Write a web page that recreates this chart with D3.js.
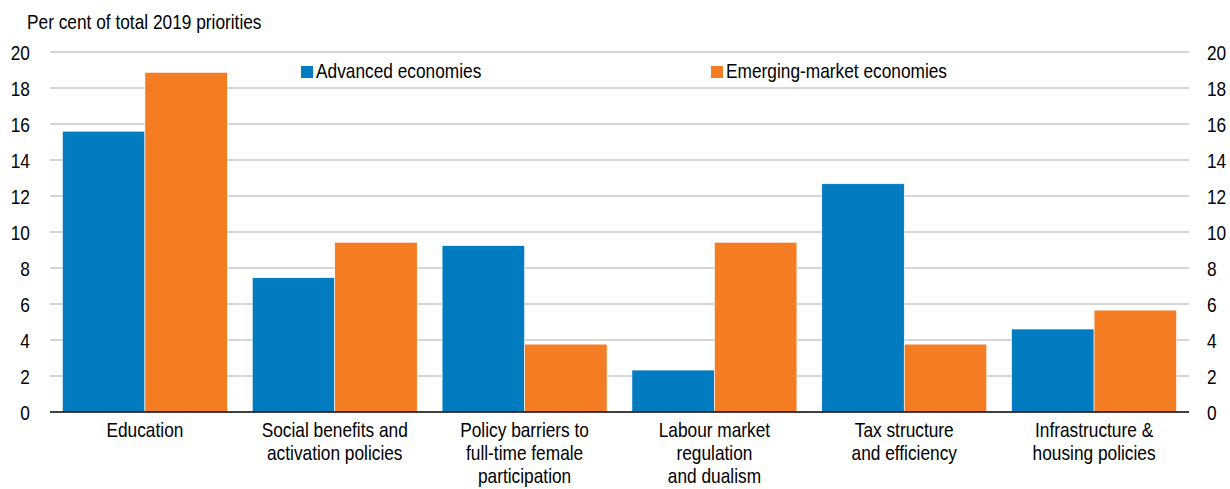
<!DOCTYPE html>
<html>
<head>
<meta charset="utf-8">
<script src="https://cdn.jsdelivr.net/npm/d3@7"></script>
<style>
  html, body { margin: 0; padding: 0; background: #fff; }
  svg text { font-family: "Liberation Sans", Arial, sans-serif; fill: #000; }
</style>
</head>
<body>
<svg id="chart" width="1230" height="489"></svg>
<script>
// Share of 2019 structural-reform priorities by policy area
const categories = [
  ["Education"],
  ["Social benefits and", "activation policies"],
  ["Policy barriers to", "full-time female", "participation"],
  ["Labour market", "regulation", "and dualism"],
  ["Tax structure", "and efficiency"],
  ["Infrastructure &", "housing policies"]
];
const seriesNames = ["Advanced economies", "Emerging-market economies"];
const advanced = [15.6, 7.46, 9.24, 2.33, 12.68, 4.61];
const emerging = [18.87, 9.43, 3.77, 9.43, 3.77, 5.66];
const yTicks = [0, 2, 4, 6, 8, 10, 12, 14, 16, 18, 20];
const yTitle = "Per cent of total 2019 priorities";

const colors = ["#037bc1", "#f47d23"];
const narrow = 0.865;   // condensed sans look

const margin = { left: 50, right: 41, top: 52, bottom: 77 };
const W = 1230, H = 489;
const svg = d3.select("#chart");

// place a text at (px, py) with horizontal condensing
function placeText(sel, px, py) {
  sel.attr("x", 0).attr("y", 0)
    .attr("transform", (d, i) => `translate(${typeof px === "function" ? px(d, i) : px},${typeof py === "function" ? py(d, i) : py}) scale(${narrow},1)`);
}

const x = d3.scaleBand()
  .domain(d3.range(categories.length))
  .range([margin.left, W - margin.right])
  .paddingInner(0.131)
  .paddingOuter(0.0655);

const x1 = d3.scaleBand()
  .domain(d3.range(seriesNames.length))
  .range([0, x.bandwidth()]);

const y = d3.scaleLinear()
  .domain([0, 20])
  .range([H - margin.bottom, margin.top]);

// Horizontal gridlines
svg.append("g")
  .selectAll("line")
  .data(yTicks.filter(d => d > 0))
  .join("line")
  .attr("x1", margin.left)
  .attr("x2", W - margin.right)
  .attr("y1", d => y(d))
  .attr("y2", d => y(d))
  .attr("stroke", "#c9c9c9")
  .attr("stroke-width", 1.5);

// Bars
const data = categories.map((c, i) => [advanced[i], emerging[i]]);
const groups = svg.append("g")
  .selectAll("g")
  .data(data)
  .join("g")
  .attr("transform", (d, i) => `translate(${x(i)},0)`);

groups.selectAll("rect")
  .data(d => d.map((v, s) => ({ v, s })))
  .join("rect")
  .attr("x", d => x1(d.s))
  .attr("width", x1.bandwidth())
  .attr("y", d => y(d.v))
  .attr("height", d => y(0) - y(d.v))
  .attr("fill", d => colors[d.s])
  .attr("stroke", "#ffffff")
  .attr("stroke-width", 0.6);

// Zero baseline
svg.append("line")
  .attr("x1", margin.left)
  .attr("x2", W - margin.right)
  .attr("y1", y(0))
  .attr("y2", y(0))
  .attr("stroke", "#000")
  .attr("stroke-width", 1.5);

// Left and right value axes
const leftAxis = d3.axisLeft(y).tickValues(yTicks).tickSize(0).tickPadding(0);
const rightAxis = d3.axisRight(y).tickValues(yTicks).tickSize(0).tickPadding(0);

const gl = svg.append("g").attr("transform", "translate(30,0)").call(leftAxis);
const gr = svg.append("g").attr("transform", "translate(1207,0)").call(rightAxis);
[gl, gr].forEach(g => {
  g.select(".domain").remove();
  g.selectAll("text")
    .style("font-size", "20px")
    .attr("dy", "0.36em")
    .attr("transform", `scale(${narrow},1)`);
});

// Axis title
svg.append("text")
  .style("font-size", "20px")
  .text(yTitle)
  .call(placeText, 27, 29);

// Category labels
const labels = svg.append("g")
  .selectAll("text")
  .data(categories)
  .join("text")
  .attr("text-anchor", "middle")
  .style("font-size", "20px")
  .call(placeText, (d, i) => x(i) + x.bandwidth() / 2, 437);

labels.selectAll("tspan")
  .data(d => d)
  .join("tspan")
  .attr("x", 0)
  .attr("dy", (d, i) => i === 0 ? 0 : 23)
  .text(d => d);

// Legend
const legendPos = [301, 711];
const legend = svg.append("g")
  .selectAll("g")
  .data(seriesNames)
  .join("g")
  .attr("transform", (d, i) => `translate(${legendPos[i]},66)`);

legend.append("rect")
  .attr("width", 12)
  .attr("height", 12)
  .attr("fill", (d, i) => colors[i]);

legend.append("text")
  .style("font-size", "20px")
  .text(d => d)
  .call(placeText, 15, 12);
</script>
</body>
</html>
